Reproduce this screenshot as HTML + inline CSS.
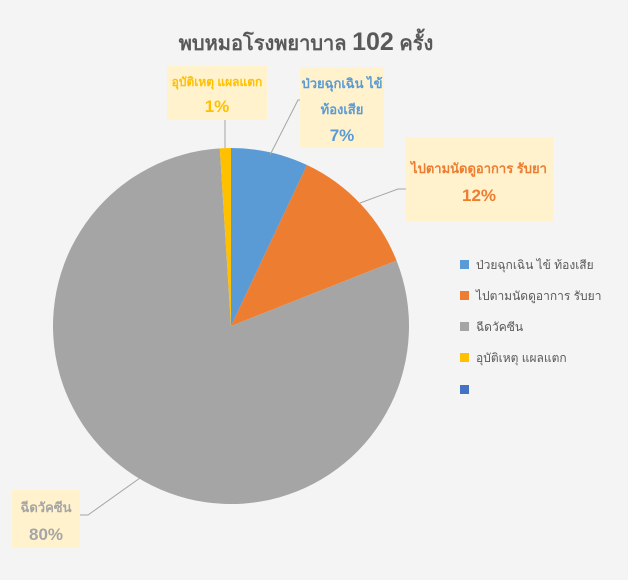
<!DOCTYPE html>
<html><head><meta charset="utf-8"><style>
body{margin:0;background:#f4f4f4;}
svg text{font-family:"Liberation Sans","DejaVu Sans",sans-serif;}
</style></head><body>
<svg width="628" height="575" xmlns="http://www.w3.org/2000/svg">
<rect width="628" height="575" fill="#f4f4f4"/>
<text x="306" y="50" text-anchor="middle" font-size="20" font-weight="bold" fill="#595959">พบหมอโรงพยาบาล <tspan font-size="25">102</tspan> ครั้ง</text>
<g>
<path d="M231,326 L231,148 A178,178 0 0 1 307,165 Z" fill="#5b9bd5"/>
<path d="M231,326 L307,165 A178,178 0 0 1 396.5,260.5 Z" fill="#ed7d31"/>
<path d="M231,326 L396.5,260.5 A178,178 0 1 1 219.8,148.4 Z" fill="#a5a5a5"/>
<path d="M231,326 L219.8,148.4 A178,178 0 0 1 231,148 Z" fill="#ffc000"/>
</g>
<g stroke="#a5a5a5" stroke-width="1" fill="none">
<polyline points="225,148 225,120"/>
<polyline points="270,155 298,100 300,100"/>
<polyline points="360,203 398,189 406,189"/>
<polyline points="140,478 88,515 80,515"/>
</g>
<rect x="167" y="66" width="100" height="54" fill="#fff2cc"/>
<text x="217" y="86" text-anchor="middle" font-size="12" font-weight="bold" fill="#ffc000">อุบัติเหตุ แผลแตก</text>
<text x="217" y="112" text-anchor="middle" font-size="17" font-weight="bold" fill="#ffc000">1%</text>
<rect x="300" y="67" width="84" height="81" fill="#fff2cc"/>
<text x="342" y="88" text-anchor="middle" font-size="13" font-weight="bold" fill="#5b9bd5">ป่วยฉุกเฉิน ไข้</text>
<text x="342" y="114" text-anchor="middle" font-size="13" font-weight="bold" fill="#5b9bd5">ท้องเสีย</text>
<text x="342" y="141" text-anchor="middle" font-size="17" font-weight="bold" fill="#5b9bd5">7%</text>
<rect x="406" y="137" width="147" height="85" fill="#fff2cc"/>
<text x="479" y="173" text-anchor="middle" font-size="13" font-weight="bold" fill="#ed7d31">ไปตามนัดดูอาการ รับยา</text>
<text x="479" y="201" text-anchor="middle" font-size="17" font-weight="bold" fill="#ed7d31">12%</text>
<rect x="12" y="490" width="68" height="58" fill="#fff2cc"/>
<text x="46" y="512" text-anchor="middle" font-size="13" font-weight="bold" fill="#a5a5a5">ฉีดวัคซีน</text>
<text x="46" y="540" text-anchor="middle" font-size="17" font-weight="bold" fill="#a5a5a5">80%</text>
<g font-size="12" fill="#595959">
<rect x="460" y="260" width="9" height="9" fill="#5b9bd5"/><text x="476" y="269">ป่วยฉุกเฉิน ไข้ ท้องเสีย</text>
<rect x="460" y="291" width="9" height="9" fill="#ed7d31"/><text x="476" y="300">ไปตามนัดดูอาการ รับยา</text>
<rect x="460" y="322" width="9" height="9" fill="#a5a5a5"/><text x="476" y="331">ฉีดวัคซีน</text>
<rect x="460" y="353" width="9" height="9" fill="#ffc000"/><text x="476" y="362">อุบัติเหตุ แผลแตก</text>
<rect x="460" y="385" width="9" height="9" fill="#4472c4"/>
</g>
</svg>
</body></html>
